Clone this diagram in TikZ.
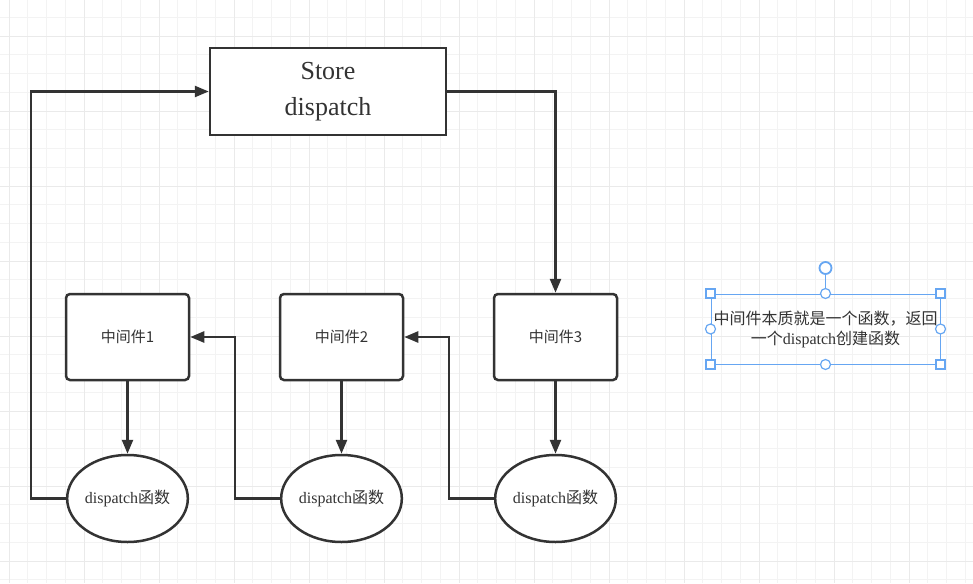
\documentclass[tikz,border=0pt]{standalone}
\usepackage{fontspec}
\setmainfont{Liberation Serif}
\newfontfamily\cjk{Noto Sans CJK SC}
\usepackage{tikz}
\usetikzlibrary{positioning,calc,arrows.meta,shapes.geometric}

\definecolor{inkgray}{HTML}{333333}
\definecolor{gridminor}{HTML}{F3F3F3}
\definecolor{gridmajor}{HTML}{EAEAEA}
\definecolor{selblue}{HTML}{66A6F2}

\tikzset{
  flow/.style={draw=inkgray, line width=2.5pt, -{Triangle[length=14pt,width=11pt]}},
  storebox/.style={draw=inkgray, line width=2.5pt, fill=white, minimum width=236pt,
    minimum height=87pt, align=center, font=\fontsize{26}{33}\selectfont, text=inkgray},
  middlebox/.style={draw=inkgray, line width=2.5pt, fill=white, rounded corners=4pt,
    minimum width=123pt, minimum height=86pt, font=\cjk\fontsize{15}{18}\selectfont, text=inkgray},
  dispfun/.style={ellipse, draw=inkgray, line width=2.5pt, fill=white, minimum width=114pt,
    minimum height=87pt, inner sep=0pt, font=\fontsize{16}{18}\selectfont, text=inkgray},
  handlesq/.style={draw=selblue, fill=white, line width=1.2pt, minimum size=9pt, inner sep=0pt},
  handlecirc/.style={circle, draw=selblue, fill=white, line width=1.2pt, minimum size=10pt, inner sep=0pt}
}

\begin{document}
\begin{tikzpicture}[x=1pt, y=-1pt]
    \useasboundingbox (0,0) rectangle (973,583);
    \fill[white] (0,0) rectangle (973,583);

    % background grid
    \foreach \k in {0, ..., 51}
      \draw[gridminor, line width=0.8pt] (9+18.75*\k, 0) -- (9+18.75*\k, 583);
    \foreach \k in {-1, ..., 30}
      \draw[gridminor, line width=0.8pt] (0, 36+18.75*\k) -- (973, 36+18.75*\k);
    \foreach \k in {0, ..., 12}
      \draw[gridmajor, line width=0.8pt] (9+75*\k, 0) -- (9+75*\k, 583);
    \foreach \k in {0, ..., 7}
      \draw[gridmajor, line width=0.8pt] (0, 36+75*\k) -- (973, 36+75*\k);

    % the store
    \node[storebox] (store) at (328, 91.5) {\raisebox{-1pt}{Store}\\[1pt]\raisebox{-3pt}{dispatch}};

    % middlewares and their dispatch functions
    \node[middlebox] (mw1) at (127.5, 337) {中间件1};
    \node[middlebox] (mw2) at (341.5, 337) {中间件2};
    \node[middlebox] (mw3) at (555.5, 337) {中间件3};

    \node[dispfun] (fn1) at (127.5, 498.5) {dispatch{\cjk 函数}};
    \node[dispfun] (fn2) at (341.5, 498.5) {dispatch{\cjk 函数}};
    \node[dispfun] (fn3) at (555.5, 498.5) {dispatch{\cjk 函数}};

    % connectors
    \draw[flow] (store.east) -| (mw3.north);
    \draw[flow] (mw1.south) -- (fn1.north);
    \draw[flow] (mw2.south) -- (fn2.north);
    \draw[flow] (mw3.south) -- (fn3.north);
    \draw[flow] (fn3.west) -- ++(-45, 0) |- (mw2.east);
    \draw[flow] (fn2.west) -- ++(-45, 0) |- (mw1.east);
    \draw[flow] (fn1.west) -- ++(-35, 0) |- (store.west);

    % selected note on the right
    \node[draw=selblue, line width=1pt, minimum width=229pt, minimum height=70pt,
      align=center, inner sep=0pt, text=inkgray, font=\fontsize{16}{20}\selectfont]
      (note) at (825.5, 329) {{\cjk 中间件本质就是一个函数，返回}\\{\cjk 一个}dispatch{\cjk 创建函数}};
    \node[handlecirc, minimum size=12pt, line width=1.8pt] (rot) at (825.5, 268) {};
    \draw[selblue, line width=1.5pt] (rot) -- (note.north);
    \foreach \c in {north west, north east, south west, south east}
      \node[handlesq] at (note.\c) {};
    \foreach \c in {north, south, west, east}
      \node[handlecirc] at (note.\c) {};

\end{tikzpicture}
\end{document}
